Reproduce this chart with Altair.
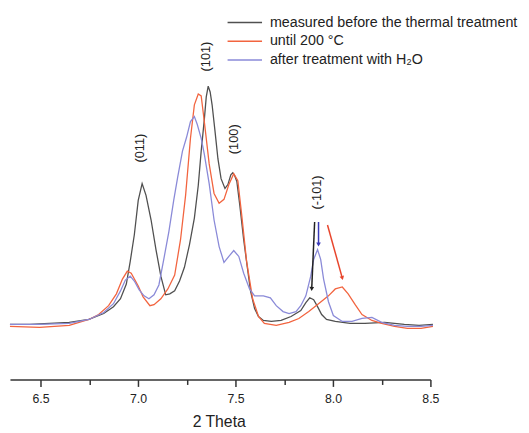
import altair as alt
import pandas as pd

SERIES = ["measured before the thermal treatment", "until 200 °C", "after treatment with H₂O"]
COLORS = ["#505050", "#f2643f", "#8a8ad8"]

# measured before the thermal treatment
black_x = [6.343, 6.444, 6.546, 6.647, 6.748, 6.824, 6.874, 6.910, 6.940, 6.960, 6.981, 7.001, 7.021, 7.041, 7.067,
           7.092, 7.117, 7.142, 7.163, 7.188, 7.213, 7.238, 7.264, 7.289, 7.309, 7.324, 7.340, 7.350, 7.360, 7.370,
           7.380, 7.395, 7.410, 7.426, 7.446, 7.461, 7.476, 7.486, 7.496, 7.507, 7.522, 7.542, 7.562, 7.577, 7.598,
           7.618, 7.643, 7.684, 7.734, 7.785, 7.835, 7.861, 7.881, 7.901, 7.921, 7.942, 7.967, 8.012, 8.088, 8.164,
           8.265, 8.366, 8.442, 8.513]
black_y = [56, 56, 57, 58, 61, 67, 74, 82, 97, 120, 147, 182, 199, 187, 162,
           132, 105, 86, 87, 90, 100, 114, 137, 164, 197, 232, 264, 287, 298, 292,
           279, 252, 224, 204, 194, 198, 208, 210, 207, 201, 177, 142, 112, 90, 72,
           64, 60, 59, 60, 64, 70, 78, 83, 81, 74, 66, 61, 59, 57, 57,
           58, 56, 55, 56]

# until 200 °C
red_x = [6.343, 6.495, 6.647, 6.748, 6.798, 6.849, 6.889, 6.920, 6.945, 6.965, 7.001, 7.026, 7.061, 7.082, 7.117,
         7.153, 7.188, 7.218, 7.244, 7.269, 7.289, 7.309, 7.324, 7.340, 7.365, 7.390, 7.416, 7.441, 7.466, 7.491,
         7.512, 7.532, 7.557, 7.588, 7.618, 7.648, 7.709, 7.775, 7.825, 7.876, 7.926, 7.977, 8.012, 8.048, 8.078,
         8.114, 8.149, 8.200, 8.250, 8.316, 8.382, 8.452, 8.513]
red_y = [54, 53, 55, 61, 66, 75, 87, 102, 110, 108, 95, 84, 75, 76, 82,
         92, 106, 142, 187, 245, 279, 290, 288, 262, 219, 189, 179, 183, 198, 209,
         202, 167, 120, 82, 64, 57, 55, 58, 62, 69, 77, 85, 92, 94, 87,
         76, 66, 60, 57, 54, 52, 52, 54]

# after treatment with H2O
blue_x = [6.343, 6.495, 6.647, 6.748, 6.824, 6.874, 6.910, 6.935, 6.960, 6.981, 7.006, 7.031, 7.056, 7.082, 7.107,
          7.132, 7.158, 7.183, 7.203, 7.228, 7.249, 7.269, 7.289, 7.304, 7.324, 7.340, 7.365, 7.390, 7.416, 7.441,
          7.466, 7.491, 7.517, 7.542, 7.572, 7.598, 7.643, 7.679, 7.709, 7.744, 7.775, 7.810, 7.835, 7.861, 7.886,
          7.901, 7.921, 7.937, 7.952, 7.977, 8.002, 8.048, 8.098, 8.149, 8.200, 8.250, 8.316, 8.382, 8.452, 8.513]
blue_y = [56, 56, 57, 61, 68, 77, 90, 101, 105, 100, 91, 85, 82, 86, 96,
          122, 150, 182, 205, 232, 246, 262, 267, 259, 245, 229, 199, 162, 135, 119,
          125, 131, 125, 108, 92, 85, 85, 83, 75, 69, 67, 69, 75, 85, 105,
          122, 132, 122, 102, 79, 65, 59, 59, 62, 63, 58, 55, 54, 54, 55]

# peak labels
peak_labels = ["(011)", "(101)", "(100)", "(-101)"]
peak_label_x = [7.011, 7.350, 7.491, 7.921]
peak_label_y = [235, 328, 244, 190]

# arrows (start -> end) near the (-101) reflection
arrow_names = ["black", "blue", "red"]
arrow_x0 = [7.906, 7.926, 7.972]
arrow_y0 = [160, 160, 157]
arrow_x1 = [7.891, 7.926, 8.048]
arrow_y1 = [92, 137, 103]
ARROW_COLORS = ["#222222", "#3a3ab8", "#e8452c"]
ARROW_ANGLES = [2, 0, 345]

# tick values of the x axis
tick_values = [6.5, 6.75, 7.0, 7.25, 7.5, 7.75, 8.0, 8.25, 8.5]

rows = []
for name, xs, ys in zip(SERIES, [black_x, red_x, blue_x], [black_y, red_y, blue_y]):
    for i, (a, b) in enumerate(zip(xs, ys)):
        rows.append({"series": name, "order": i, "two_theta": a, "intensity": b})
df = pd.DataFrame(rows)

labels_df = pd.DataFrame({"label": peak_labels, "two_theta": peak_label_x, "intensity": peak_label_y})

xscale = alt.Scale(domain=[6.343, 8.5], nice=False, zero=False)
yscale = alt.Scale(domain=[0, 372], nice=False)

lines = alt.Chart(df).mark_line(strokeWidth=1.3).encode(
    x=alt.X("two_theta:Q", scale=xscale, title="2 Theta",
            axis=alt.Axis(values=tick_values,
                          labelExpr="datum.value % 0.5 == 0 ? format(datum.value, '.1f') : ''",
                          tickSize={"condition": {"test": "datum.value % 0.5 == 0", "value": 7}, "value": 5},
                          labelPadding=6, titleX=212, titleY=43, titleBaseline="middle",
                          titleAnchor="start", titleAlign="center")),
    y=alt.Y("intensity:Q", scale=yscale, axis=None),
    color=alt.Color("series:N", scale=alt.Scale(domain=SERIES, range=COLORS), sort=SERIES,
                    legend=alt.Legend(orient="none", legendX=220, legendY=0, title=None,
                                      symbolType="stroke", symbolSize=1225, symbolStrokeWidth=1.5,
                                      labelFontSize=14.5, labelFont="Liberation Sans", labelColor="#222",
                                      labelLimit=600, labelOffset=7, clipHeight=19, rowPadding=0,
                                      padding=0)),
    order="order:Q",
)

texts = alt.Chart(labels_df).mark_text(angle=270, fontSize=13, font="Liberation Sans", color="#222").encode(
    x=alt.X("two_theta:Q", scale=xscale),
    y=alt.Y("intensity:Q", scale=yscale),
    text="label:N",
)

layers = [lines, texts]
for i in range(len(arrow_names)):
    adf = pd.DataFrame({"x0": [arrow_x0[i]], "y0": [arrow_y0[i]], "x1": [arrow_x1[i]], "y1": [arrow_y1[i]]})
    rule = alt.Chart(adf).mark_rule(strokeWidth=1.5, color=ARROW_COLORS[i]).encode(
        x=alt.X("x0:Q", scale=xscale), y=alt.Y("y0:Q", scale=yscale),
        x2="x1:Q", y2="y1:Q")
    head = alt.Chart(adf).mark_point(shape="triangle-down", filled=True, size=22, opacity=1,
                                     color=ARROW_COLORS[i], angle=ARROW_ANGLES[i]).encode(
        x=alt.X("x1:Q", scale=xscale), y=alt.Y("y1:Q", scale=yscale))
    layers += [rule, head]

chart = alt.layer(*layers).properties(
    width=427, height=372,
    autosize=alt.AutoSizeParams(type="none"),
    padding={"left": 2, "top": 2, "right": 92, "bottom": 51},
    background="white",
).configure_view(stroke=None).configure_axis(
    grid=False, domainColor="#333", domainWidth=1.5, tickColor="#333", tickWidth=1.5,
    labelFont="Liberation Sans", labelFontSize=12.5, labelColor="#222", labelFlush=False,
    titleFont="Liberation Sans", titleFontSize=16, titleFontWeight="normal", titleColor="#222",
)

chart.save("out.html", embed_options={"renderer": "svg", "actions": False})
